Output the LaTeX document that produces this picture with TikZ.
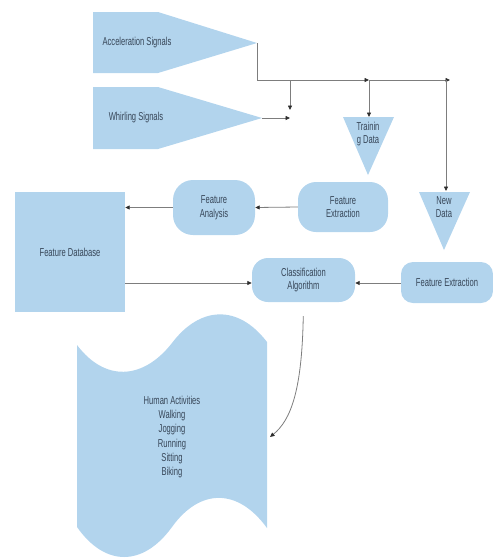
\documentclass[tikz,border=0pt]{standalone}
\usepackage{fontspec}
\newfontfamily\nf[FakeStretch=0.66]{Liberation Sans}
\usetikzlibrary{arrows.meta}
\definecolor{boxfill}{RGB}{178,212,237}
\definecolor{txt}{RGB}{55,70,88}
\definecolor{ln}{RGB}{125,125,125}
\definecolor{tipc}{RGB}{45,45,45}
\begin{document}
\begin{tikzpicture}[x=1pt,y=-1pt,
  lbl/.style={text=txt,font=\nf\fontsize{11.5}{13.5}\selectfont,align=center,inner sep=0pt},
  shp/.style={fill=boxfill,draw=none},
  rbox/.style={lbl,fill=boxfill,draw=none},
  conn/.style={draw=ln,line width=0.8pt},
  arr/.style={conn,-{Triangle[length=4.5pt,width=4pt,color=tipc]}}
]
\useasboundingbox (0,0) rectangle (493,558);

% input signals
\fill[shp] (93,12) -- (158,12) -- (257,43) -- (158,73) -- (93,73) -- cycle;
\coordinate (acctip) at (257,43);
\node[lbl] (acc) at (137,43) {Acceleration Signals};
\fill[shp] (93,87) -- (158,87) -- (262,118) -- (158,149) -- (93,149) -- cycle;
\coordinate (whtip) at (262,118);
\node[lbl] (wh) at (136,118) {Whirling Signals};

% data triangles
\fill[shp] (343,117) -- (394,117) -- (368,175) -- cycle;
\coordinate (train) at (369,117);
\node[lbl] (trainlbl) at (368,134) {Trainin\\g Data};
\fill[shp] (419,192) -- (470,192) -- (444,250) -- cycle;
\coordinate (newd) at (446,191);
\node[lbl] (newlbl) at (444,207) {New\\Data};

% boxes
\node[rbox,minimum width=90pt,minimum height=50pt,rounded corners=18pt] (fe1) at (343,207) {Feature\\Extraction};
\node[rbox,minimum width=82pt,minimum height=55pt,rounded corners=20pt] (fa) at (214,207.5) {Feature\\Analysis};
\node[rbox,minimum width=110pt,minimum height=120pt] (db) at (70,252) {Feature Database};
\node[rbox,minimum width=103pt,minimum height=44pt,rounded corners=16pt] (cls) at (303.5,280) {Classification\\Algorithm};
\node[rbox,minimum width=92pt,minimum height=41pt,rounded corners=12pt] (fe2) at (447,282.5) {Feature Extraction};

% output document
\fill[shp] (77,345) .. controls (105,382) and (143,380) .. (172,343)
  .. controls (200,306) and (238,304) .. (267,342)
  -- (267,528)
  .. controls (238,488) and (200,488) .. (172,527)
  .. controls (143,567) and (105,567) .. (77,527) -- cycle;
\node[lbl,font=\nf\fontsize{11.5}{14.2}\selectfont] (act) at (172,437) {Human Activities\\Walking\\Jogging\\Running\\Sitting\\Biking};
\coordinate (actin) at (270,437);

% connectors
\coordinate (h1) at (369,80);
\coordinate (h2) at (450,80);
\coordinate (b1) at (290,80);
\coordinate (b1end) at (290,110);
\coordinate (wjoin) at (290,118);
\coordinate (b3) at (446,80);
\draw[arr] (acctip) |- (h1);
\draw[arr] (h1) -- (h2);
\draw[arr] (b1) -- (b1end);
\draw[arr] (whtip) -- (wjoin);
\draw[arr] (h1) -- (train);
\draw[arr] (b3) -- (newd);

\draw[arr] (fe1.west) -- (fa.east);
\draw[arr] (fa.west) -- (fa.west -| db.east);
\draw[arr] (db.east |- 0,283) -- (cls.west |- 0,283);
\draw[arr] (fe2.west |- 0,283) -- (cls.east |- 0,283);
\draw[arr,shorten <=14pt] (cls.south) .. controls (302,390) and (291,420) .. (actin);
\end{tikzpicture}
\end{document}
